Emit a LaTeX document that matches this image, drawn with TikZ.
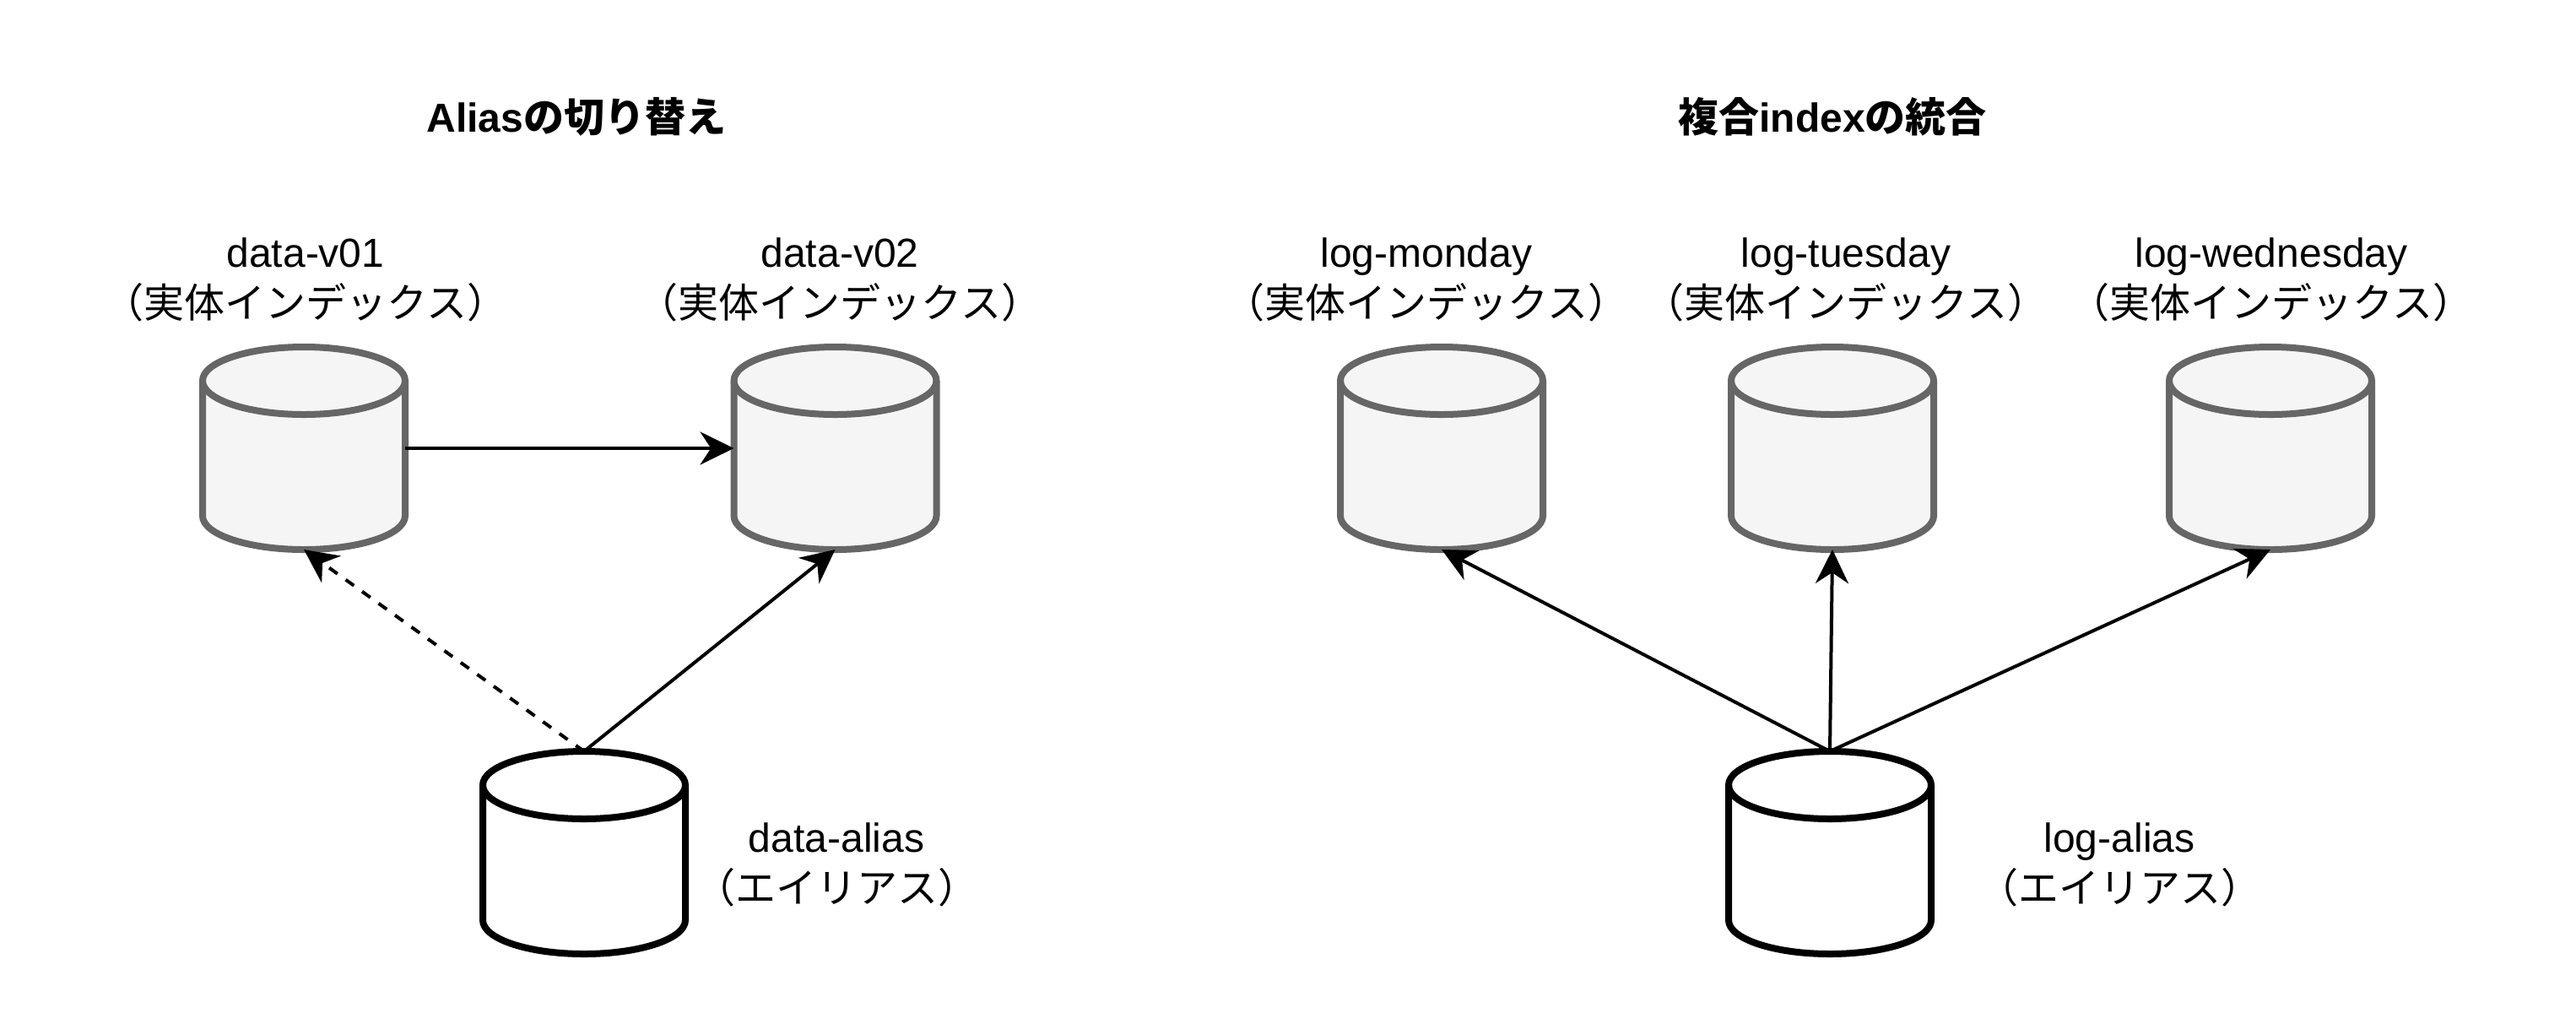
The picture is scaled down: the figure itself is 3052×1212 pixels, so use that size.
\documentclass[tikz,border=0pt]{standalone}
\usepackage{fontspec}
\setmainfont{Liberation Sans}
\newfontfamily\cjkfont{Noto Sans CJK JP}
\usetikzlibrary{arrows.meta}
\definecolor{realline}{HTML}{666666}
\definecolor{realfill}{HTML}{F5F5F5}
\tikzset{
  dbbox/.style={rectangle,minimum width=60pt,minimum height=60pt,inner sep=0pt,outer sep=0pt},
  realdb/.style={draw=realline,fill=realfill,line width=2pt,line join=round},
  aliasdb/.style={draw=black,fill=white,line width=2pt,line join=round},
  caption/.style={align=center,inner sep=0pt,font=\fontsize{12}{15}\selectfont},
  heading/.style={inner sep=0pt,font=\fontsize{12}{15}\selectfont\bfseries},
  link/.style={line width=1pt,-{Stealth[length=10pt,width=9.75pt,inset=3.2pt]}},
  pics/dbcan/.style={code={
    \path[pic actions] (-120,-80) arc[x radius=120,y radius=40,start angle=180,end angle=360]
      -- (120,80) arc[x radius=120,y radius=40,start angle=0,end angle=180] -- cycle;
    \path[pic actions,fill=none] (-120,-80) arc[x radius=120,y radius=40,start angle=180,end angle=0];
  }}
}
\newcommand{\realtext}{{\cjkfont （実体インデックス）}}
\newcommand{\aliastext}{{\cjkfont （エイリアス）}}
\begin{document}
\begin{tikzpicture}[x=0.25pt,y=-0.25pt]
  \useasboundingbox (0,0) rectangle (3052,1212);
  \path
    (683,138) node[heading] (aliastitle){Alias{\cjkfont の切り替え}}
    (2171,138) node[heading] (mergetitle){{\cjkfont 複合}index{\cjkfont の統合}}
    (362,331) node[caption] (v01text){data-v01\\\realtext}
    (995,331) node[caption] (v02text){data-v02\\\realtext}
    (1690,331) node[caption] (montext){log-monday\\\realtext}
    (2187,331) node[caption] (tuetext){log-tuesday\\\realtext}
    (2691,331) node[caption] (wedtext){log-wednesday\\\realtext}
    (991,1024) node[caption] (dataaliastext){data-alias\\\aliastext}
    (2511,1024) node[caption] (logaliastext){log-alias\\\aliastext};
  \path
    (360,531) node[dbbox] (v01){} pic[realdb]{dbcan}
    (989.5,531) node[dbbox] (v02){} pic[realdb]{dbcan}
    (1708,531) node[dbbox] (mon){} pic[realdb]{dbcan}
    (2171,531) node[dbbox] (tue){} pic[realdb]{dbcan}
    (2690,531) node[dbbox] (wed){} pic[realdb]{dbcan}
    (692,1010) node[dbbox] (dataalias){} pic[aliasdb]{dbcan}
    (2168,1010) node[dbbox] (logalias){} pic[aliasdb]{dbcan};
  \begin{scope}[link]
    \draw (v01) to (v02);
    \draw[dashed] (dataalias.north) to (v01.south);
    \draw (dataalias.north) to (v02.south);
    \draw (logalias.north) to (mon.south);
    \draw (logalias.north) to (tue.south);
    \draw (logalias.north) to (wed.south);
  \end{scope}
\end{tikzpicture}
\end{document}
